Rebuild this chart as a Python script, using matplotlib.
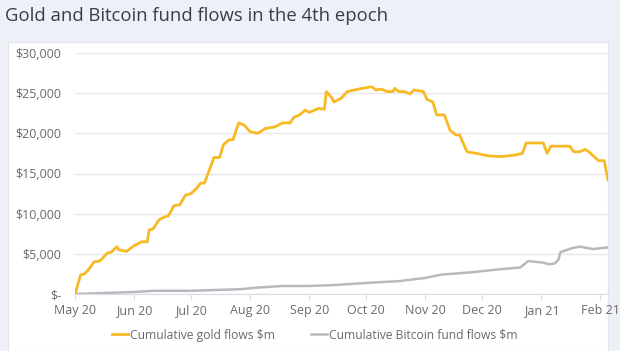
import matplotlib.pyplot as plt
import matplotlib.dates as mdates
import matplotlib.ticker as mticker
import numpy as np
import pandas as pd
from matplotlib.patches import Rectangle

# Cumulative gold flows ($m)
gold_dates = ['2020-05-01', '2020-05-04', '2020-05-06', '2020-05-08', '2020-05-11',
              '2020-05-14', '2020-05-18', '2020-05-20', '2020-05-23', '2020-05-24',
              '2020-05-28', '2020-06-01', '2020-06-05', '2020-06-08', '2020-06-09',
              '2020-06-11', '2020-06-14', '2020-06-17', '2020-06-19', '2020-06-22',
              '2020-06-25', '2020-06-28', '2020-07-01', '2020-07-04', '2020-07-06',
              '2020-07-08', '2020-07-11', '2020-07-13', '2020-07-16', '2020-07-18',
              '2020-07-21', '2020-07-23', '2020-07-26', '2020-07-29', '2020-08-01',
              '2020-08-05', '2020-08-09', '2020-08-14', '2020-08-18', '2020-08-22',
              '2020-08-24', '2020-08-27', '2020-08-30', '2020-09-01', '2020-09-06',
              '2020-09-09', '2020-09-10', '2020-09-13', '2020-09-14', '2020-09-18',
              '2020-09-21', '2020-09-25', '2020-09-29', '2020-10-04', '2020-10-06',
              '2020-10-09', '2020-10-12', '2020-10-15', '2020-10-16', '2020-10-18',
              '2020-10-21', '2020-10-24', '2020-10-26', '2020-10-31', '2020-11-02',
              '2020-11-05', '2020-11-07', '2020-11-11', '2020-11-14', '2020-11-17',
              '2020-11-19', '2020-11-23', '2020-11-28', '2020-12-04', '2020-12-11',
              '2020-12-18', '2020-12-22', '2020-12-24', '2021-01-02', '2021-01-04',
              '2021-01-06', '2021-01-16', '2021-01-18', '2021-01-21', '2021-01-24',
              '2021-01-26', '2021-01-31', '2021-02-03', '2021-02-05']
gold_flows = [0, 2400, 2500, 3000, 4000,
              4100, 5100, 5200, 5900, 5500,
              5300, 6000, 6500, 6500, 8000,
              8100, 9200, 9600, 9700, 11000,
              11100, 12300, 12500, 13200, 13800,
              13800, 15700, 17000, 17000, 18600,
              19200, 19200, 21300, 21000, 20200,
              20000, 20600, 20800, 21300, 21300,
              22000, 22300, 22900, 22600, 23100,
              23000, 25200, 24400, 23900, 24400,
              25200, 25400, 25600, 25800, 25400,
              25500, 25200, 25200, 25600, 25200,
              25200, 24900, 25400, 25200, 24200,
              23900, 22300, 22300, 20400, 19800,
              19800, 17700, 17500, 17200, 17100,
              17300, 17500, 18800, 18800, 17500,
              18400, 18400, 17700, 17700, 18000,
              17700, 16600, 16600, 14200]

# Cumulative Bitcoin fund flows ($m)
btc_dates = ['2020-05-01', '2020-06-01', '2020-06-12', '2020-07-01', '2020-07-27',
             '2020-08-05', '2020-08-18', '2020-09-01', '2020-09-13', '2020-10-03',
             '2020-10-18', '2020-11-01', '2020-11-09', '2020-11-25', '2020-12-11',
             '2020-12-21', '2020-12-25', '2021-01-02', '2021-01-05', '2021-01-08',
             '2021-01-10', '2021-01-11', '2021-01-17', '2021-01-21', '2021-01-28',
             '2021-02-05']
btc_flows = [0, 250, 400, 400, 600,
             800, 1000, 1000, 1100, 1400,
             1600, 2000, 2400, 2700, 3100,
             3300, 4100, 3900, 3700, 3800,
             4300, 5200, 5700, 5900, 5600,
             5800]

gold_color = '#F7B924'
btc_color = '#bbb7bf'
text_color = '#6b6870'

fig = plt.figure(figsize=(6.2, 3.51), dpi=100)
fig.patch.set_facecolor('#eef0f8')
fig.patches.append(Rectangle((8 / 620, 0), 600 / 620, 1 - 42 / 351,
                             transform=fig.transFigure, facecolor='white',
                             edgecolor='#e4e5ec', linewidth=0.8, zorder=0))

fig.text(5 / 620, 1 - 16 / 351, 'Gold and Bitcoin fund flows in the 4th epoch',
         fontsize=13.3, color='#3c3c44', family='Open Sans', va='center', ha='left')

ax = fig.add_axes([75 / 620, 1 - 294 / 351, 533 / 620, 241 / 351])
ax.set_facecolor('none')
ax.set_zorder(2)

ax.plot(pd.to_datetime(btc_dates), btc_flows, color=btc_color, lw=1.8,
        label='Cumulative Bitcoin fund flows $m')
ax.plot(pd.to_datetime(gold_dates), gold_flows, color=gold_color, lw=2,
        label='Cumulative gold flows $m')

ax.set_ylim(0, 30000)
ax.set_xlim(pd.Timestamp('2020-05-01'), pd.Timestamp('2021-02-05'))
ax.yaxis.set_major_locator(mticker.MultipleLocator(5000))
ax.yaxis.set_major_formatter(mticker.FuncFormatter(
    lambda v, p: '$-' if v == 0 else '${:,.0f}'.format(v)))
ax.xaxis.set_major_locator(mdates.MonthLocator())
ax.xaxis.set_major_formatter(mdates.DateFormatter('%b %y'))

ax.grid(axis='y', color='#e8e8ec', lw=1)
ax.set_axisbelow(True)
for s in ['top', 'right', 'left']:
    ax.spines[s].set_visible(False)
ax.spines['bottom'].set_color('#dcdce2')
ax.tick_params(axis='y', length=0, pad=10, labelsize=9, labelcolor=text_color)
ax.tick_params(axis='x', length=4, color='#dcdce2', pad=3, labelsize=9,
               labelcolor=text_color)
for lbl in ax.get_xticklabels() + ax.get_yticklabels():
    lbl.set_family('Open Sans')

handles, labels = ax.get_legend_handles_labels()
leg = ax.legend(handles[::-1], labels[::-1], loc='center',
                bbox_to_anchor=(0.508, 1 - 335 / 351),
                bbox_transform=fig.transFigure, ncol=2, frameon=False,
                handlelength=1.3, handletextpad=0.2, columnspacing=3.0,
                prop={'family': 'Open Sans', 'size': 8.7})
for t in leg.get_texts():
    t.set_color(text_color)

fig.savefig('out.png', dpi=100, facecolor=fig.get_facecolor())
